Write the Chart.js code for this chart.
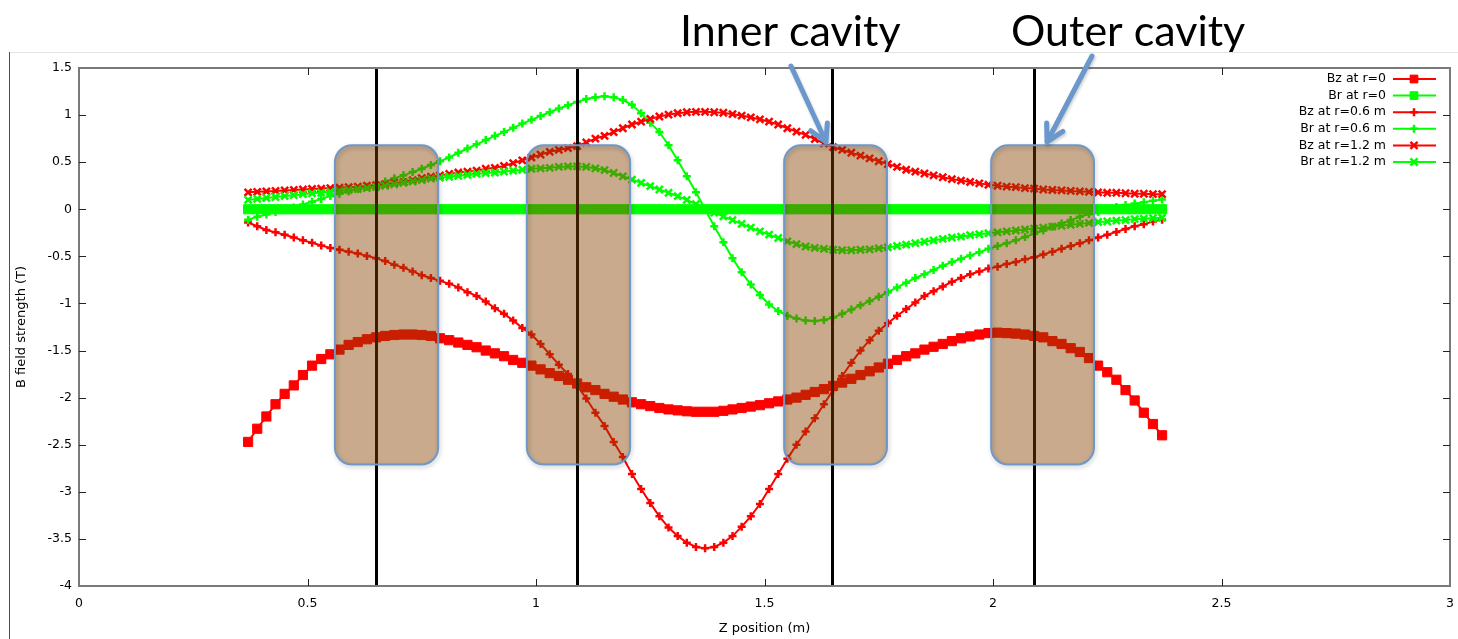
<!DOCTYPE html>
<html>
<head>
<meta charset="utf-8">
<title>B field along z</title>
<script src="https://cdn.jsdelivr.net/npm/chart.js@4.4.1/dist/chart.umd.min.js"></script>
<style>
  html, body { margin: 0; padding: 0; background: #fff; }
</style>
</head>
<body>
<canvas id="bfield" width="1458" height="639"></canvas>
<script>
// z positions (m) of the field samples
const zPos = [
  0.37, 0.39, 0.41, 0.43, 0.45, 0.47, 0.49, 0.51, 0.53, 0.55,
  0.57, 0.59, 0.61, 0.63, 0.65, 0.67, 0.69, 0.71, 0.73, 0.75,
  0.77, 0.79, 0.81, 0.83, 0.85, 0.87, 0.89, 0.91, 0.93, 0.95,
  0.97, 0.99, 1.01, 1.03, 1.05, 1.07, 1.09, 1.11, 1.13, 1.15,
  1.17, 1.19, 1.21, 1.23, 1.25, 1.27, 1.29, 1.31, 1.33, 1.35,
  1.37, 1.39, 1.41, 1.43, 1.45, 1.47, 1.49, 1.51, 1.53, 1.55,
  1.57, 1.59, 1.61, 1.63, 1.65, 1.67, 1.69, 1.71, 1.73, 1.75,
  1.77, 1.79, 1.81, 1.83, 1.85, 1.87, 1.89, 1.91, 1.93, 1.95,
  1.97, 1.99, 2.01, 2.03, 2.05, 2.07, 2.09, 2.11, 2.13, 2.15,
  2.17, 2.19, 2.21, 2.23, 2.25, 2.27, 2.29, 2.31, 2.33, 2.35,
  2.37
];

// field values (T)
const bzR0 = [
  -2.47, -2.33, -2.20, -2.07, -1.96, -1.87, -1.76, -1.66, -1.59, -1.54,
  -1.49, -1.44, -1.41, -1.38, -1.36, -1.345, -1.335, -1.33, -1.33, -1.335,
  -1.345, -1.37, -1.39, -1.415, -1.44, -1.465, -1.50, -1.53, -1.56, -1.60,
  -1.63, -1.66, -1.70, -1.74, -1.77, -1.81, -1.85, -1.89, -1.92, -1.96,
  -1.99, -2.02, -2.05, -2.07, -2.09, -2.11, -2.125, -2.135, -2.145, -2.15,
  -2.15, -2.15, -2.14, -2.125, -2.11, -2.095, -2.08, -2.06, -2.04, -2.02,
  -2.00, -1.97, -1.94, -1.91, -1.875, -1.84, -1.80, -1.76, -1.72, -1.68,
  -1.64, -1.60, -1.56, -1.53, -1.49, -1.46, -1.43, -1.40, -1.37, -1.35,
  -1.33, -1.315, -1.31, -1.315, -1.32, -1.33, -1.345, -1.36, -1.40, -1.43,
  -1.475, -1.515, -1.58, -1.66, -1.73, -1.81, -1.92, -2.03, -2.16, -2.28,
  -2.40
];

const brR0 = [
  0, 0, 0, 0, 0, 0, 0, 0, 0, 0,
  0, 0, 0, 0, 0, 0, 0, 0, 0, 0,
  0, 0, 0, 0, 0, 0, 0, 0, 0, 0,
  0, 0, 0, 0, 0, 0, 0, 0, 0, 0,
  0, 0, 0, 0, 0, 0, 0, 0, 0, 0,
  0, 0, 0, 0, 0, 0, 0, 0, 0, 0,
  0, 0, 0, 0, 0, 0, 0, 0, 0, 0,
  0, 0, 0, 0, 0, 0, 0, 0, 0, 0,
  0, 0, 0, 0, 0, 0, 0, 0, 0, 0,
  0, 0, 0, 0, 0, 0, 0, 0, 0, 0,
  0
];

const bzR06 = [
  -0.14, -0.18, -0.22, -0.245, -0.27, -0.30, -0.33, -0.355, -0.385, -0.41,
  -0.43, -0.45, -0.47, -0.495, -0.52, -0.55, -0.59, -0.62, -0.66, -0.70,
  -0.73, -0.76, -0.79, -0.83, -0.88, -0.92, -0.98, -1.05, -1.11, -1.18,
  -1.26, -1.33, -1.43, -1.54, -1.65, -1.75, -1.87, -2.01, -2.16, -2.30,
  -2.47, -2.63, -2.81, -2.97, -3.12, -3.26, -3.38, -3.47, -3.54, -3.585,
  -3.60, -3.585, -3.54, -3.47, -3.37, -3.26, -3.13, -2.97, -2.81, -2.65,
  -2.50, -2.36, -2.22, -2.07, -1.92, -1.77, -1.63, -1.50, -1.39, -1.29,
  -1.21, -1.13, -1.06, -0.99, -0.92, -0.87, -0.82, -0.77, -0.73, -0.69,
  -0.66, -0.63, -0.61, -0.58, -0.56, -0.53, -0.51, -0.48, -0.45, -0.42,
  -0.39, -0.36, -0.33, -0.30, -0.27, -0.24, -0.21, -0.18, -0.16, -0.13,
  -0.11
];

const brR06 = [
  -0.11, -0.08, -0.055, -0.03, -0.005, 0.02, 0.05, 0.08, 0.11, 0.14,
  0.165, 0.19, 0.215, 0.24, 0.265, 0.295, 0.33, 0.36, 0.395, 0.43,
  0.47, 0.51, 0.55, 0.60, 0.645, 0.69, 0.735, 0.78, 0.82, 0.865,
  0.91, 0.95, 0.99, 1.03, 1.07, 1.105, 1.14, 1.17, 1.19, 1.20,
  1.19, 1.16, 1.11, 1.02, 0.92, 0.82, 0.68, 0.52, 0.35, 0.18,
  0.0, -0.18, -0.35, -0.52, -0.67, -0.80, -0.91, -1.01, -1.08, -1.13,
  -1.16, -1.18, -1.185, -1.175, -1.15, -1.11, -1.065, -1.02, -0.975, -0.93,
  -0.88, -0.83, -0.78, -0.73, -0.69, -0.645, -0.60, -0.56, -0.525, -0.49,
  -0.455, -0.42, -0.39, -0.36, -0.33, -0.295, -0.26, -0.225, -0.185, -0.15,
  -0.115, -0.08, -0.05, -0.025, 0.0, 0.025, 0.045, 0.06, 0.075, 0.09,
  0.105
];

const bzR12 = [
  0.18, 0.185, 0.19, 0.195, 0.20, 0.205, 0.21, 0.215, 0.22, 0.225,
  0.23, 0.235, 0.24, 0.25, 0.255, 0.265, 0.28, 0.29, 0.31, 0.33,
  0.345, 0.36, 0.375, 0.39, 0.40, 0.41, 0.43, 0.44, 0.46, 0.49,
  0.52, 0.55, 0.58, 0.61, 0.63, 0.65, 0.67, 0.71, 0.75, 0.78,
  0.82, 0.86, 0.90, 0.93, 0.96, 0.985, 1.005, 1.02, 1.03, 1.035,
  1.035, 1.03, 1.025, 1.01, 0.995, 0.975, 0.955, 0.93, 0.90, 0.86,
  0.825, 0.79, 0.745, 0.70, 0.66, 0.63, 0.60, 0.57, 0.54, 0.51,
  0.48, 0.45, 0.42, 0.40, 0.38, 0.36, 0.34, 0.32, 0.305, 0.29,
  0.275, 0.26, 0.25, 0.24, 0.235, 0.225, 0.22, 0.21, 0.205, 0.20,
  0.195, 0.19, 0.185, 0.18, 0.175, 0.175, 0.17, 0.165, 0.165, 0.16,
  0.16
];

const brR12 = [
  0.10, 0.11, 0.12, 0.13, 0.14, 0.15, 0.16, 0.17, 0.175, 0.185,
  0.195, 0.205, 0.215, 0.225, 0.235, 0.25, 0.265, 0.28, 0.295, 0.31,
  0.325, 0.335, 0.345, 0.355, 0.365, 0.375, 0.385, 0.39, 0.40, 0.41,
  0.42, 0.43, 0.435, 0.44, 0.45, 0.455, 0.455, 0.45, 0.435, 0.415,
  0.385, 0.35, 0.315, 0.28, 0.245, 0.21, 0.175, 0.14, 0.10, 0.055,
  0.01, -0.035, -0.075, -0.115, -0.155, -0.195, -0.235, -0.27, -0.305, -0.34,
  -0.37, -0.395, -0.41, -0.42, -0.43, -0.435, -0.435, -0.43, -0.425, -0.415,
  -0.405, -0.39, -0.375, -0.36, -0.345, -0.33, -0.315, -0.30, -0.29, -0.275,
  -0.265, -0.255, -0.245, -0.235, -0.225, -0.215, -0.205, -0.195, -0.185, -0.175,
  -0.165, -0.155, -0.145, -0.135, -0.13, -0.12, -0.115, -0.105, -0.10, -0.095,
  -0.09
];

const seriesNames = ["Bz at r=0", "Br at r=0", "Bz at r=0.6 m", "Br at r=0.6 m", "Bz at r=1.2 m", "Br at r=1.2 m"];
const seriesValues = [bzR0, brR0, bzR06, brR06, bzR12, brR12];

const xTicks = [0, 0.5, 1, 1.5, 2, 2.5, 3];
const yTicks = [1.5, 1, 0.5, 0, -0.5, -1, -1.5, -2, -2.5, -3, -3.5, -4];

// cavity centre lines (z) and the shaded cavity blocks
const cavityZ = [0.65, 1.09, 1.648, 2.09];
const blockZ = [[0.56, 0.786], [0.98, 1.206], [1.543, 1.768], [1.996, 2.221]];
const blockB = [0.68, -2.71];

const labelFont = "DejaVu Sans";

// gnuplot-like look: red / green, squares, plus and cross points
const looks = [
  { color: "#ff0000", pointStyle: "rect", radius: 6.5, pointBorder: 1 },
  { color: "#00ff00", pointStyle: "rect", radius: 6.5, pointBorder: 1 },
  { color: "#ff0000", pointStyle: "cross", radius: 4, pointBorder: 2.5 },
  { color: "#00ff00", pointStyle: "cross", radius: 4, pointBorder: 2.5 },
  { color: "#ff0000", pointStyle: "crossRot", radius: 5, pointBorder: 2.5 },
  { color: "#00ff00", pointStyle: "crossRot", radius: 5, pointBorder: 2.5 }
];

const datasets = seriesNames.map((name, i) => ({
  label: name,
  data: zPos.map((z, k) => ({ x: z, y: seriesValues[i][k] })),
  borderColor: looks[i].color,
  backgroundColor: looks[i].color,
  pointBackgroundColor: looks[i].color,
  pointBorderColor: looks[i].color,
  pointStyle: looks[i].pointStyle,
  pointRadius: looks[i].radius,
  pointBorderWidth: looks[i].pointBorder,
  borderWidth: 2,
  tension: 0,
  order: seriesNames.length - i
}));

const overlay = {
  id: "overlay",
  beforeDraw(chart) {
    const ctx = chart.ctx;
    ctx.save();
    ctx.fillStyle = "#ffffff";
    ctx.fillRect(0, 0, chart.width, chart.height);
    ctx.restore();
  },
  afterDatasetsDraw(chart) {
    const { ctx, chartArea: a, scales: { x, y } } = chart;
    ctx.save();

    // cavity centre lines
    ctx.strokeStyle = "#000";
    ctx.lineWidth = 3;
    cavityZ.forEach(z => {
      const px = Math.round(x.getPixelForValue(z)) + 0.5;
      ctx.beginPath();
      ctx.moveTo(px, a.top);
      ctx.lineTo(px, a.bottom);
      ctx.stroke();
    });

    // translucent brown blocks laid over the curves
    const top = y.getPixelForValue(blockB[0]);
    const bot = y.getPixelForValue(blockB[1]);
    ctx.fillStyle = "rgba(136, 67, 0, 0.45)";
    blockZ.forEach(([z0, z1]) => {
      const l = x.getPixelForValue(z0), r = x.getPixelForValue(z1);
      ctx.beginPath();
      ctx.roundRect(l, top, r - l, bot - top, 17);
      ctx.fill();
    });
    ctx.strokeStyle = "#6f98c8";
    ctx.lineWidth = 2;
    ctx.shadowColor = "rgba(0,0,0,0.25)";
    ctx.shadowBlur = 4;
    ctx.shadowOffsetX = 1;
    ctx.shadowOffsetY = 2;
    blockZ.forEach(([z0, z1]) => {
      const l = x.getPixelForValue(z0), r = x.getPixelForValue(z1);
      ctx.beginPath();
      ctx.roundRect(l, top, r - l, bot - top, 17);
      ctx.stroke();
    });
    ctx.restore();

    // plot frame with inward ticks on all four sides
    ctx.save();
    ctx.strokeStyle = "#7a7a7a";
    ctx.lineWidth = 2;
    ctx.strokeRect(a.left, a.top, a.right - a.left, a.bottom - a.top);
    ctx.strokeStyle = "#222";
    ctx.lineWidth = 1;
    ctx.beginPath();
    xTicks.slice(1, -1).forEach(v => {
      const px = Math.round(x.getPixelForValue(v)) + 0.5;
      ctx.moveTo(px, a.bottom); ctx.lineTo(px, a.bottom - 7);
      ctx.moveTo(px, a.top); ctx.lineTo(px, a.top + 7);
    });
    yTicks.slice(1, -1).forEach(v => {
      const py = Math.round(y.getPixelForValue(v)) + 0.5;
      ctx.moveTo(a.left, py); ctx.lineTo(a.left + 7, py);
      ctx.moveTo(a.right, py); ctx.lineTo(a.right - 7, py);
    });
    ctx.stroke();
    ctx.restore();
  },
  afterDraw(chart) {
    const ctx = chart.ctx;
    ctx.save();

    // key, top right inside the frame
    ctx.font = "12.5px " + labelFont;
    ctx.textAlign = "right";
    ctx.textBaseline = "middle";
    seriesNames.forEach((name, i) => {
      const ry = 79 + i * 16.6;
      ctx.fillStyle = "#000";
      ctx.fillText(name, 1386, ry);
      ctx.strokeStyle = looks[i].color;
      ctx.fillStyle = looks[i].color;
      ctx.lineWidth = 2;
      ctx.beginPath();
      ctx.moveTo(1393, ry);
      ctx.lineTo(1436, ry);
      ctx.stroke();
      ctx.lineWidth = looks[i].pointBorder;
      Chart.helpers.drawPoint(ctx, {
        pointStyle: looks[i].pointStyle,
        radius: Math.min(looks[i].radius, 5.5),
        borderWidth: looks[i].pointBorder,
        rotation: 0
      }, 1414, ry);
    });

    // cavity annotations
    ctx.fillStyle = "#000";
    ctx.textAlign = "left";
    ctx.textBaseline = "alphabetic";
    ctx.font = "43px Lato";
    ctx.fillText("Inner cavity", 680, 46);
    ctx.fillText("Outer cavity", 1011, 46);

    const arrow = (x0, y0, x1, y1) => {
      const ang = Math.atan2(y1 - y0, x1 - x0);
      const len = 19;
      ctx.beginPath();
      ctx.moveTo(x0, y0);
      ctx.lineTo(x1, y1);
      ctx.moveTo(x1 - len * Math.cos(ang - 0.5), y1 - len * Math.sin(ang - 0.5));
      ctx.lineTo(x1, y1);
      ctx.lineTo(x1 - len * Math.cos(ang + 0.5), y1 - len * Math.sin(ang + 0.5));
      ctx.stroke();
    };
    ctx.strokeStyle = "#6a98cc";
    ctx.lineWidth = 5;
    ctx.lineCap = "round";
    ctx.lineJoin = "round";
    ctx.shadowColor = "rgba(0,0,0,0.2)";
    ctx.shadowBlur = 3;
    ctx.shadowOffsetX = 1;
    ctx.shadowOffsetY = 2;
    arrow(791, 66, 826, 142);
    arrow(1092, 56, 1047, 142);
    ctx.restore();

    // slide frame edges
    ctx.save();
    ctx.strokeStyle = "#e4e4e4";
    ctx.lineWidth = 1;
    ctx.beginPath();
    ctx.moveTo(10, 52.5);
    ctx.lineTo(1458, 52.5);
    ctx.stroke();
    ctx.strokeStyle = "#505050";
    ctx.beginPath();
    ctx.moveTo(9.5, 52);
    ctx.lineTo(9.5, 639);
    ctx.stroke();
    ctx.restore();
  }
};

new Chart(document.getElementById("bfield"), {
  type: "line",
  data: { datasets: datasets },
  plugins: [overlay],
  options: {
    responsive: false,
    animation: false,
    devicePixelRatio: 1,
    layout: { padding: { top: 68, right: 8, left: 0, bottom: 0 } },
    plugins: {
      legend: { display: false },
      tooltip: { enabled: false }
    },
    elements: { point: { hoverRadius: 0 } },
    scales: {
      x: {
        type: "linear",
        min: 0,
        max: 3,
        afterBuildTicks: s => { s.ticks = xTicks.map(v => ({ value: v })); },
        afterFit: s => {
          s.height = 53;
          s.paddingLeft = 0;
          s.paddingRight = 0;
        },
        grid: { display: false, drawTicks: false },
        border: { display: false },
        ticks: {
          padding: 10,
          color: "#000",
          maxRotation: 0,
          autoSkip: false,
          font: { family: labelFont, size: 12.5 },
          callback: v => String(v)
        },
        title: {
          display: true,
          text: "Z position (m)",
          color: "#000",
          font: { family: labelFont, size: 13 },
          padding: { top: 0, bottom: 3 }
        }
      },
      y: {
        type: "linear",
        min: -4,
        max: 1.5,
        afterBuildTicks: s => { s.ticks = yTicks.map(v => ({ value: v })); },
        afterFit: s => { s.width = 79; },
        grid: { display: false, drawTicks: false },
        border: { display: false },
        ticks: {
          padding: 7,
          color: "#000",
          autoSkip: false,
          font: { family: labelFont, size: 12.5 },
          callback: v => String(v)
        },
        title: {
          display: true,
          text: "B field strength (T)",
          color: "#000",
          font: { family: labelFont, size: 13 },
          padding: { top: 14, bottom: 0 }
        }
      }
    }
  }
});
</script>
</body>
</html>
